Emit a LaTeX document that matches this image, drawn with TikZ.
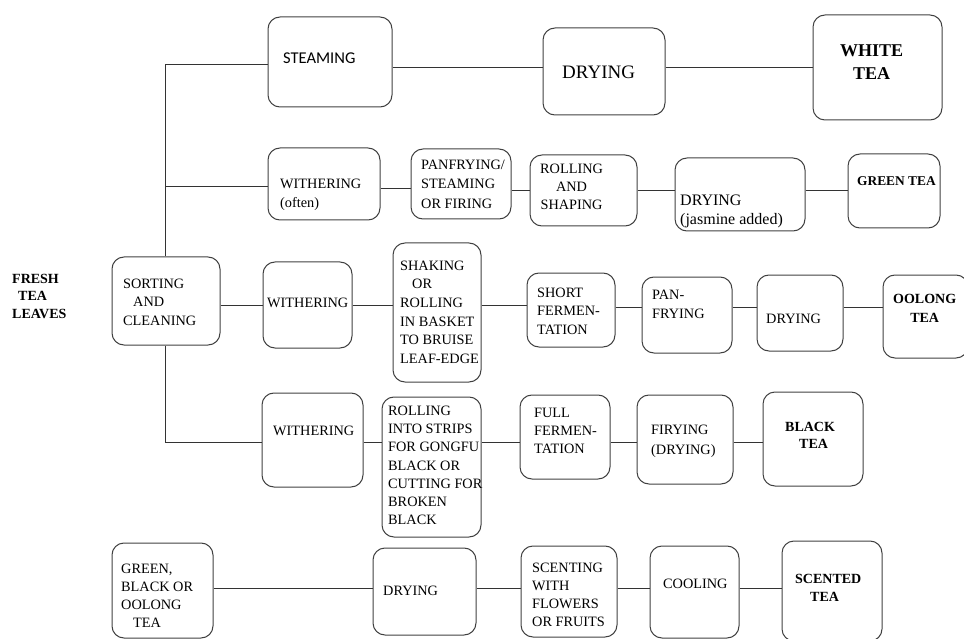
\documentclass[tikz,border=0pt]{standalone}
\usepackage{fontspec}
\setmainfont{Liberation Serif}
\newfontfamily\calfont{Carlito}
\newcommand\fsz[2]{\fontsize{#1}{#2}\selectfont}
\begin{document}
\begin{tikzpicture}[x=1pt,y=-1pt,
  tb/.style={draw=black!75, line width=1pt, rounded corners=12pt, inner sep=0pt},
  conn/.style={draw=black!80, line width=1pt},
  txt/.style={anchor=north west, inner sep=0pt, align=left, text=black},
]
\useasboundingbox (0,0) rectangle (964,639);
\newcommand\tbox[5]{\node[tb, minimum width={#4-#2}, minimum height={#5-#3}] (#1) at ({(#2+#4)/2},{(#3+#5)/2}) {};}
% boxes
\tbox{steam}{268}{17}{392}{107}
\tbox{dryA}{543}{28}{665}{115}
\tbox{white}{813}{15}{942}{120}
\tbox{with2}{268}{148}{380}{220}
\tbox{pan}{411}{149}{511}{219}
\tbox{roll2}{530}{155}{637}{226}
\tbox{dry2}{675}{158}{805}{231}
\tbox{green}{848}{154}{940}{228}
\tbox{sort}{112}{257}{220}{345}
\tbox{with3}{263}{262}{352}{348}
\tbox{shake}{393}{243}{481}{382}
\tbox{short}{527}{273}{615}{347}
\tbox{panfry}{642}{277}{732}{353}
\tbox{dry3}{757}{275}{843}{351}
\tbox{oolong}{883}{275}{968}{358}
\tbox{with4}{262}{393}{363}{487}
\tbox{roll4}{382}{397}{481}{537}
\tbox{full}{520}{395}{610}{479}
\tbox{firy}{637}{395}{733}{484}
\tbox{black}{763}{392}{863}{486}
\tbox{gbo}{112}{543}{213}{638}
\tbox{dry5}{373}{548}{476}{635}
\tbox{scent}{521}{546}{617}{637}
\tbox{cool}{650}{546}{739}{638}
\tbox{scented}{782}{541}{882}{641}
% texts
\node[txt, font=\calfont\fsz{16.5}{20}] (t-steam) at (283,53) {STEAMING};
\node[txt, font=\fsz{19}{22}] (t-dryA) at (562,66) {DRYING};
\node[txt, align=center, font=\bfseries\fsz{18}{23}] (t-white) at (840,45) {WHITE\\TEA};
\node[txt, font=\fsz{14.3}{19}] (t-with2) at (280,178.5) {WITHERING\\(often)};
\node[txt, font=\fsz{14.3}{19.5}] (t-pan) at (421,159.5) {PANFRYING/\\STEAMING\\OR FIRING};
\node[txt, align=center, font=\fsz{14.3}{18}] (t-roll2) at (540,163.5) {ROLLING\\AND\\SHAPING};
\node[txt, font=\fsz{16}{19}] (t-dry2) at (680,194.5) {DRYING\\(jasmine added)};
\node[txt, font=\bfseries\fsz{13.4}{17}] (t-green) at (857,176) {GREEN TEA};
\node[txt, font=\bfseries\fsz{14}{17.5}] (t-fresh) at (12,273.7) {FRESH\\\hspace*{6pt}TEA\\LEAVES};
\node[txt, font=\fsz{14.3}{18.5}] (t-sort) at (123,278.5) {SORTING\\\hspace*{10pt}AND\\CLEANING};
\node[txt, font=\fsz{14.3}{18}] (t-with3) at (267,297.5) {WITHERING};
\node[txt, font=\fsz{14.3}{18.7}] (t-shake) at (400,260.5) {SHAKING\\\hspace*{12pt}OR\\ROLLING\\IN BASKET\\TO BRUISE\\LEAF-EDGE};
\node[txt, font=\fsz{14.3}{18.8}] (t-short) at (537,287.5) {SHORT\\FERMEN-\\TATION};
\node[txt, font=\fsz{14.3}{19.3}] (t-panfry) at (652,289.5) {PAN-\\FRYING};
\node[txt, font=\fsz{14.3}{18}] (t-dry3) at (766,313.5) {DRYING};
\node[txt, align=center, font=\bfseries\fsz{14}{19}] (t-oolong) at (893,293.7) {OOLONG\\TEA};
\node[txt, font=\fsz{14.3}{18}] (t-with4) at (273,425.5) {WITHERING};
\node[txt, font=\fsz{14.3}{18.3}] (t-roll4) at (388,405.5) {ROLLING\\INTO STRIPS\\FOR GONGFU\\BLACK OR\\CUTTING FOR\\BROKEN\\BLACK};
\node[txt, font=\fsz{14.3}{18.3}] (t-full) at (534,407.5) {FULL\\FERMEN-\\TATION};
\node[txt, font=\fsz{14.3}{20}] (t-firy) at (651,424.5) {FIRYING\\(DRYING)};
\node[txt, font=\bfseries\fsz{14}{17.7}] (t-black) at (785,421.7) {BLACK\\\hspace*{14pt}TEA};
\node[txt, font=\fsz{14.3}{18}] (t-gbo) at (121,563.5) {GREEN,\\BLACK OR\\OOLONG\\\hspace*{12pt}TEA};
\node[txt, font=\fsz{14.3}{18}] (t-dry5) at (383,585.5) {DRYING};
\node[txt, font=\fsz{14.3}{18}] (t-scent) at (532,562.5) {SCENTING\\WITH\\FLOWERS\\OR FRUITS};
\node[txt, font=\fsz{14.3}{18}] (t-cool) at (663,578.5) {COOLING};
\node[txt, font=\bfseries\fsz{14}{18}] (t-scented) at (795,573.7) {SCENTED\\\hspace*{15pt}TEA};
% connector anchors
\coordinate (trunkTop) at (165,65);
\coordinate (trunkBot) at (165,442);
\coordinate (y1) at (0,68);
\coordinate (y2a) at (0,187);
\coordinate (y2b) at (0,189);
\coordinate (y2c) at (0,191);
\coordinate (y3a) at (0,305);
\coordinate (y3b) at (0,307);
\coordinate (y5) at (0,588);
% trunk
\draw[conn] (sort.north -| trunkTop) -- (trunkTop) -- (steam.west |- trunkTop);
\draw[conn] (sort.south -| trunkBot) -- (trunkBot) -- (with4.west |- trunkBot);
\draw[conn] (trunkTop |- y2a) -- (with2.west |- y2a);
% row 1
\draw[conn] (steam.east |- y1) -- (dryA.west |- y1);
\draw[conn] (dryA.east |- y1) -- (white.west |- y1);
% row 2
\draw[conn] (with2.east |- y2b) -- (pan.west |- y2b);
\draw[conn] (pan.east |- y2c) -- (roll2.west |- y2c);
\draw[conn] (roll2.east |- y2c) -- (dry2.west |- y2c);
\draw[conn] (dry2.east |- y2c) -- (green.west |- y2c);
% row 3
\draw[conn] (sort.east |- y3a) -- (with3.west |- y3a);
\draw[conn] (with3.east |- y3a) -- (shake.west |- y3a);
\draw[conn] (shake.east |- y3a) -- (short.west |- y3a);
\draw[conn] (short.east |- y3b) -- (panfry.west |- y3b);
\draw[conn] (panfry.east |- y3b) -- (dry3.west |- y3b);
\draw[conn] (dry3.east |- y3b) -- (oolong.west |- y3b);
% row 4
\draw[conn] (with4.east |- trunkBot) -- (roll4.west |- trunkBot);
\draw[conn] (roll4.east |- trunkBot) -- (full.west |- trunkBot);
\draw[conn] (full.east |- trunkBot) -- (firy.west |- trunkBot);
\draw[conn] (firy.east |- trunkBot) -- (black.west |- trunkBot);
% row 5
\draw[conn] (gbo.east |- y5) -- (dry5.west |- y5);
\draw[conn] (dry5.east |- y5) -- (scent.west |- y5);
\draw[conn] (scent.east |- y5) -- (cool.west |- y5);
\draw[conn] (cool.east |- y5) -- (scented.west |- y5);
\end{tikzpicture}
\end{document}
